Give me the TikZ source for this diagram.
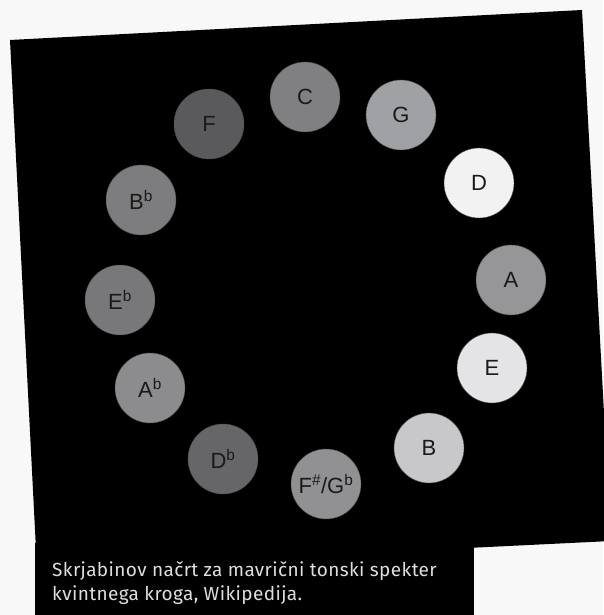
\documentclass[tikz,border=0pt]{standalone}
\usepackage{fontspec}
\setmainfont{Liberation Sans}
\newfontfamily\capfont{Fira Sans}[LetterSpace=2]
\usepackage{tikz}

\definecolor{pagebg}{HTML}{F8F8F8}
\definecolor{labelink}{HTML}{1A1A1A}
\definecolor{captionink}{HTML}{DEDEDE}
% tone greys
\definecolor{greyC}{HTML}{808082}
\definecolor{greyG}{HTML}{A0A1A4}
\definecolor{greyD}{HTML}{F2F2F2}
\definecolor{greyA}{HTML}{969698}
\definecolor{greyE}{HTML}{E4E4E6}
\definecolor{greyB}{HTML}{C8C8CA}
\definecolor{greyFis}{HTML}{919193}
\definecolor{greyDes}{HTML}{666668}
\definecolor{greyAs}{HTML}{8C8C8E}
\definecolor{greyEs}{HTML}{78787A}
\definecolor{greyBes}{HTML}{7D7D7F}
\definecolor{greyF}{HTML}{5A5A5C}

\newcommand{\fl}[1]{#1\textsuperscript{b}}

\begin{document}
\begin{tikzpicture}[x=1pt,y=1pt,
  tone/.style={circle,minimum size=70pt,inner sep=0pt,fill=#1,draw=black!70,line width=.4pt,
    text=labelink,font=\fontsize{22}{24}\selectfont}]
\useasboundingbox[fill=pagebg] (0,0) rectangle (603,615);
% tilted black card
\fill[black] (10,575) -- (582,605) -- (611,74) -- (37,46) -- cycle;
% circle of fifths
\node[tone=greyC] (c) at (305,518) {C};
\node[tone=greyG] (g) at (401,500) {G};
\node[tone=greyD] (d) at (479,432) {D};
\node[tone=greyA] (a) at (511,335) {A};
\node[tone=greyE] (e) at (492,247) {E};
\node[tone=greyB] (b) at (429,167) {B};
\node[tone=greyFis] (fis) at (326,131) {F\textsuperscript{\#}/\fl{G}};
\node[tone=greyDes] (des) at (223,156) {\fl{D}};
\node[tone=greyAs] (as) at (150,227) {\fl{A}};
\node[tone=greyEs] (es) at (120,315) {\fl{E}};
\node[tone=greyBes] (bes) at (141,415) {\fl{B}};
\node[tone=greyF] (f) at (209,491) {F};
% caption
\fill[black] (35,0) rectangle (474,72);
\node[anchor=base west,align=left,text=captionink,inner sep=0pt,
  font=\capfont\fontsize{19}{25}\selectfont] (cap) at (52,14)
  {Skrjabinov načrt za mavrični tonski spekter\\kvintnega kroga, Wikipedija.};
\end{tikzpicture}
\end{document}
